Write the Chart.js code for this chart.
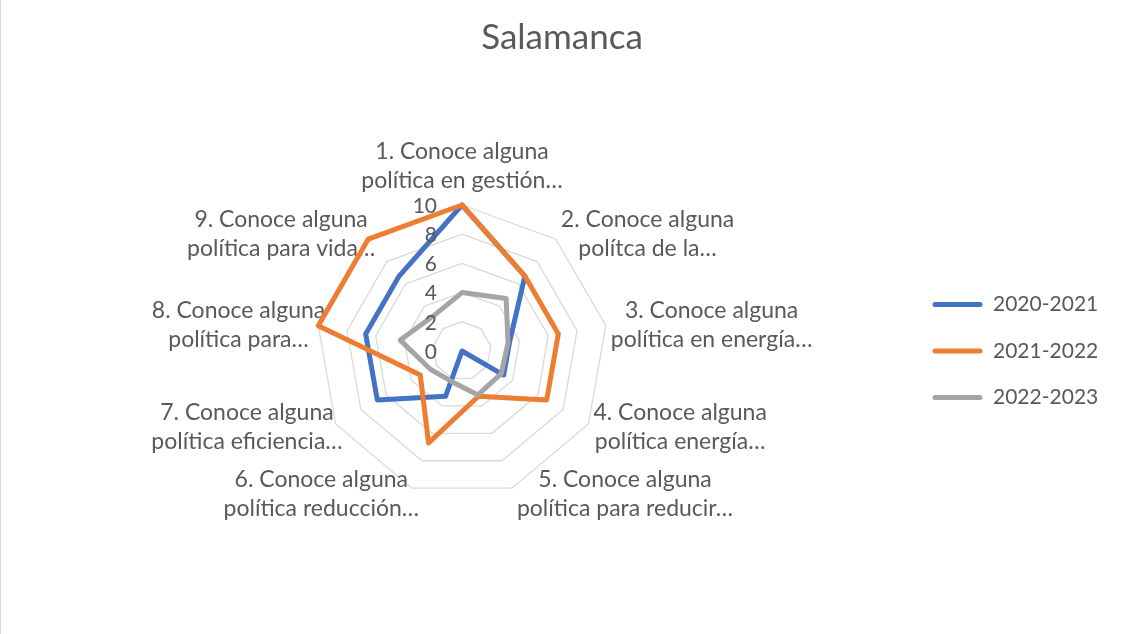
<!DOCTYPE html>
<html>
<head>
<meta charset="utf-8">
<script src="https://cdn.jsdelivr.net/npm/chart.js@4/dist/chart.umd.min.js"></script>
<style>
  body { margin: 0; background: #fff; }
</style>
</head>
<body>
<canvas id="myChart" width="1122" height="634"></canvas>
<script>
const categories = [
  ['1. Conoce alguna', 'política en gestión…'],
  ['2. Conoce alguna', 'polítca de la…'],
  ['3. Conoce alguna', 'política en energía…'],
  ['4. Conoce alguna', 'política energía…'],
  ['5. Conoce alguna', 'política para reducir…'],
  ['6. Conoce alguna', 'política reducción…'],
  ['7. Conoce alguna', 'política eficiencia…'],
  ['8. Conoce alguna', 'política para…'],
  ['9. Conoce alguna', 'política para vida…']
]
const values2020 = [10, 6.7, 3.3, 3.3, 0, 3.3, 6.7, 6.7, 6.7]
const values2021 = [10, 6.7, 6.7, 6.7, 3.3, 6.7, 3.3, 10, 10]
const values2022 = [4, 4.7, 3.2, 3.1, 3.2, 2.2, 2.5, 4.3, 3.1]
const seriesNames = ['2020-2021', '2021-2022', '2022-2023']

const textColor = '#595959'
const fontFamily = 'Lato'

// labels around the web + tick numbers, placed from the scale's own geometry
const radarTextPlugin = {
  id: 'radarText',
  beforeDraw(chart) {
    // thin frame line on the left edge, like the source sheet
    chart.ctx.save()
    chart.ctx.fillStyle = '#D9D9D9'
    chart.ctx.fillRect(0, 0, 1, chart.height)
    chart.ctx.restore()
  },
  beforeDatasetsDraw(chart) {
    const scale = chart.scales.r
    const ctx = chart.ctx
    const lineH = 29
    ctx.save()
    ctx.font = `23px ${fontFamily}`
    ctx.fillStyle = textColor
    ctx.textAlign = 'center'
    ctx.textBaseline = 'middle'
    categories.forEach((lines, i) => {
      const p = scale.getPointPosition(i, scale.drawingArea)
      const a = scale.getIndexAngle(i)
      const w = Math.max(...lines.map(l => ctx.measureText(l).width))
      const h = lines.length * lineH
      let cx, cy
      if (Math.abs(Math.sin(a)) < 0.05) {
        cx = p.x
        cy = p.y - 10 - h / 2
      } else if (Math.sin(a) > 0) {
        cx = p.x + 5 + w / 2
        cy = p.y - 6 * Math.cos(a)
      } else {
        cx = p.x + 7 - w / 2
        cy = p.y - 6 * Math.cos(a)
      }
      lines.forEach((l, j) => {
        ctx.fillText(l, cx, cy - h / 2 + lineH * (j + 0.5))
      })
    })
    ctx.restore()
  },
  afterDatasetsDraw(chart) {
    const scale = chart.scales.r
    const ctx = chart.ctx
    ctx.save()
    ctx.font = `21px ${fontFamily}`
    ctx.fillStyle = textColor
    ctx.textAlign = 'right'
    ctx.textBaseline = 'middle'
    scale.ticks.forEach(t => {
      const d = scale.getDistanceFromCenterForValue(t.value)
      ctx.fillText(t.label, scale.xCenter - 25, scale.yCenter - d + 1)
    })
    ctx.restore()
  }
}

const ctx = document.getElementById('myChart').getContext('2d')

const myChart = new Chart(ctx, {
  type: 'radar',
  data: {
    labels: categories,
    datasets: [
      { label: seriesNames[0], data: values2020, borderColor: '#4472C4', backgroundColor: '#4472C4', order: 3 },
      { label: seriesNames[1], data: values2021, borderColor: '#ED7D31', backgroundColor: '#ED7D31', order: 2 },
      { label: seriesNames[2], data: values2022, borderColor: '#A5A5A5', backgroundColor: '#A5A5A5', order: 1 }
    ]
  },
  options: {
    responsive: false,
    animation: false,
    elements: {
      line: { borderWidth: 5, fill: false, tension: 0, borderJoinStyle: 'round', borderCapStyle: 'round' },
      point: { radius: 0, hoverRadius: 0 }
    },
    layout: {
      padding: { left: 17, right: 15, top: 0, bottom: 137 }
    },
    scales: {
      r: {
        min: 0,
        max: 10,
        ticks: { stepSize: 2, display: false },
        pointLabels: { display: false },
        angleLines: { display: false },
        grid: { color: '#D9D9D9', lineWidth: 1.3 }
      }
    },
    plugins: {
      title: {
        display: true,
        text: 'Salamanca',
        color: textColor,
        font: { family: fontFamily, size: 35, weight: 'normal' },
        padding: { top: 17, bottom: 146 }
      },
      legend: {
        position: 'right',
        fullSize: false,
        maxWidth: 200,
        labels: {
          color: textColor,
          font: { family: fontFamily, size: 21 },
          boxWidth: 50,
          boxHeight: 5,
          padding: 25.5,
          useBorderRadius: true,
          borderRadius: 2.5,
          sort: (a, b) => a.datasetIndex - b.datasetIndex,
          generateLabels(chart) {
            return Chart.defaults.plugins.legend.labels.generateLabels(chart)
              .map(item => ({ ...item, fillStyle: item.strokeStyle, lineWidth: 0 }))
          }
        }
      },
      tooltip: { enabled: false }
    }
  },
  plugins: [radarTextPlugin]
})
</script>
</body>
</html>
